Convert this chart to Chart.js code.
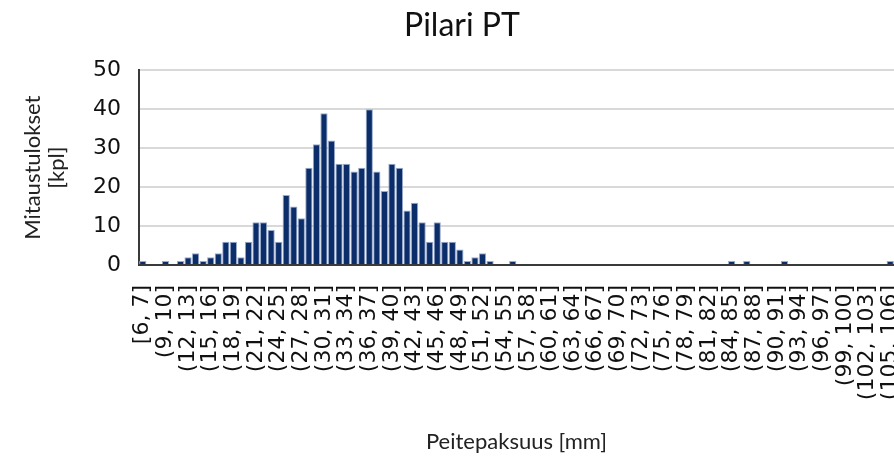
<!DOCTYPE html>
<html>
<head>
<meta charset="utf-8">
<script src="https://cdn.jsdelivr.net/npm/chart.js@4.4.1/dist/chart.umd.min.js"></script>
<style>
  html, body { margin: 0; padding: 0; background: #fff; overflow: hidden; }
</style>
</head>
<body>
<canvas id="histChart" width="894" height="459"></canvas>
<script>
// luokat (1 mm välein)
const binLabels = [
  '[6, 7]', '(7, 8]', '(8, 9]', '(9, 10]', '(10, 11]', '(11, 12]', '(12, 13]', '(13, 14]', '(14, 15]', '(15, 16]',
  '(16, 17]', '(17, 18]', '(18, 19]', '(19, 20]', '(20, 21]', '(21, 22]', '(22, 23]', '(23, 24]', '(24, 25]', '(25, 26]',
  '(26, 27]', '(27, 28]', '(28, 29]', '(29, 30]', '(30, 31]', '(31, 32]', '(32, 33]', '(33, 34]', '(34, 35]', '(35, 36]',
  '(36, 37]', '(37, 38]', '(38, 39]', '(39, 40]', '(40, 41]', '(41, 42]', '(42, 43]', '(43, 44]', '(44, 45]', '(45, 46]',
  '(46, 47]', '(47, 48]', '(48, 49]', '(49, 50]', '(50, 51]', '(51, 52]', '(52, 53]', '(53, 54]', '(54, 55]', '(55, 56]',
  '(56, 57]', '(57, 58]', '(58, 59]', '(59, 60]', '(60, 61]', '(61, 62]', '(62, 63]', '(63, 64]', '(64, 65]', '(65, 66]',
  '(66, 67]', '(67, 68]', '(68, 69]', '(69, 70]', '(70, 71]', '(71, 72]', '(72, 73]', '(73, 74]', '(74, 75]', '(75, 76]',
  '(76, 77]', '(77, 78]', '(78, 79]', '(79, 80]', '(80, 81]', '(81, 82]', '(82, 83]', '(83, 84]', '(84, 85]', '(85, 86]',
  '(86, 87]', '(87, 88]', '(88, 89]', '(89, 90]', '(90, 91]', '(91, 92]', '(92, 93]', '(93, 94]', '(94, 95]', '(95, 96]',
  '(96, 97]', '(97, 98]', '(98, 99]', '(99, 100]', '(100, 101]', '(101, 102]', '(102, 103]', '(103, 104]', '(104, 105]', '(105, 106]'
];

// mittaustulokset kpl / luokka
const counts = [
  1, 0, 0, 1, 0, 1, 2, 3, 1, 2,
  3, 6, 6, 2, 6, 11, 11, 9, 6, 18,
  15, 12, 25, 31, 39, 32, 26, 26, 24, 25,
  40, 24, 19, 26, 25, 14, 16, 11, 6, 11,
  6, 6, 4, 1, 2, 3, 1, 0, 0, 1,
  0, 0, 0, 0, 0, 0, 0, 0, 0, 0,
  0, 0, 0, 0, 0, 0, 0, 0, 0, 0,
  0, 0, 0, 0, 0, 0, 0, 0, 1, 0,
  1, 0, 0, 0, 0, 1, 0, 0, 0, 0,
  0, 0, 0, 0, 0, 0, 0, 0, 0, 1
];

const yTicks = [0, 10, 20, 30, 40, 50];

const ctx = document.getElementById('histChart').getContext('2d');

// kaavio jatkuu hieman kuvan oikean reunan yli (kuten alkuperäisessä)
let histChart = new Chart(ctx, {
  type: 'bar',
  data: {
    labels: binLabels,
    datasets: [{
      label: 'Pilari PT',
      data: counts,
      backgroundColor: '#0b2e6b',
      borderColor: '#9aaacb',
      borderWidth: 1,
      barPercentage: 0.96,
      categoryPercentage: 1
    }]
  },
  options: {
    responsive: false,
    animation: false,
    layout: { padding: { left: 25, right: -5, top: 0, bottom: 0 } },
    plugins: {
      legend: { display: false },
      tooltip: { enabled: false },
      title: {
        display: true,
        text: 'Pilari PT',
        color: '#111',
        font: { family: 'Lato', size: 32, weight: 'normal' },
        padding: { top: 6, bottom: 26 }
      }
    },
    scales: {
      x: {
        grid: { display: false, drawTicks: false },
        border: { display: true, color: '#3a3a3a', width: 2 },
        ticks: {
          autoSkip: false,
          minRotation: 90,
          maxRotation: 90,
          padding: 20,
          color: '#111',
          font: { family: 'DejaVu Sans', size: 22 },
          callback: (v, i) => (i % 3 === 0 ? binLabels[i] : '')
        },
        title: {
          display: true,
          text: 'Peitepaksuus [mm]',
          color: '#222',
          font: { family: 'Lato', size: 22 },
          padding: { top: 0, bottom: 4 }
        },
        afterFit: s => {
          s.height = 194;
          s.paddingLeft = 0;
          s.paddingRight = 0;
        }
      },
      y: {
        min: yTicks[0],
        max: yTicks[yTicks.length - 1],
        grid: { color: '#d9d9d9', lineWidth: 2, drawTicks: false },
        border: { display: true, color: '#3a3a3a', width: 2 },
        ticks: {
          stepSize: 10,
          padding: 18,
          color: '#111',
          font: { family: 'DejaVu Sans', size: 22 }
        },
        title: {
          display: true,
          text: ['Mitaustulokset', '[kpl]'],
          color: '#222',
          font: { family: 'Lato', size: 22, lineHeight: 1.1 },
          padding: { top: -4, bottom: 0 }
        },
        afterFit: s => { s.width = 114; }
      }
    }
  }
});
</script>
</body>
</html>
